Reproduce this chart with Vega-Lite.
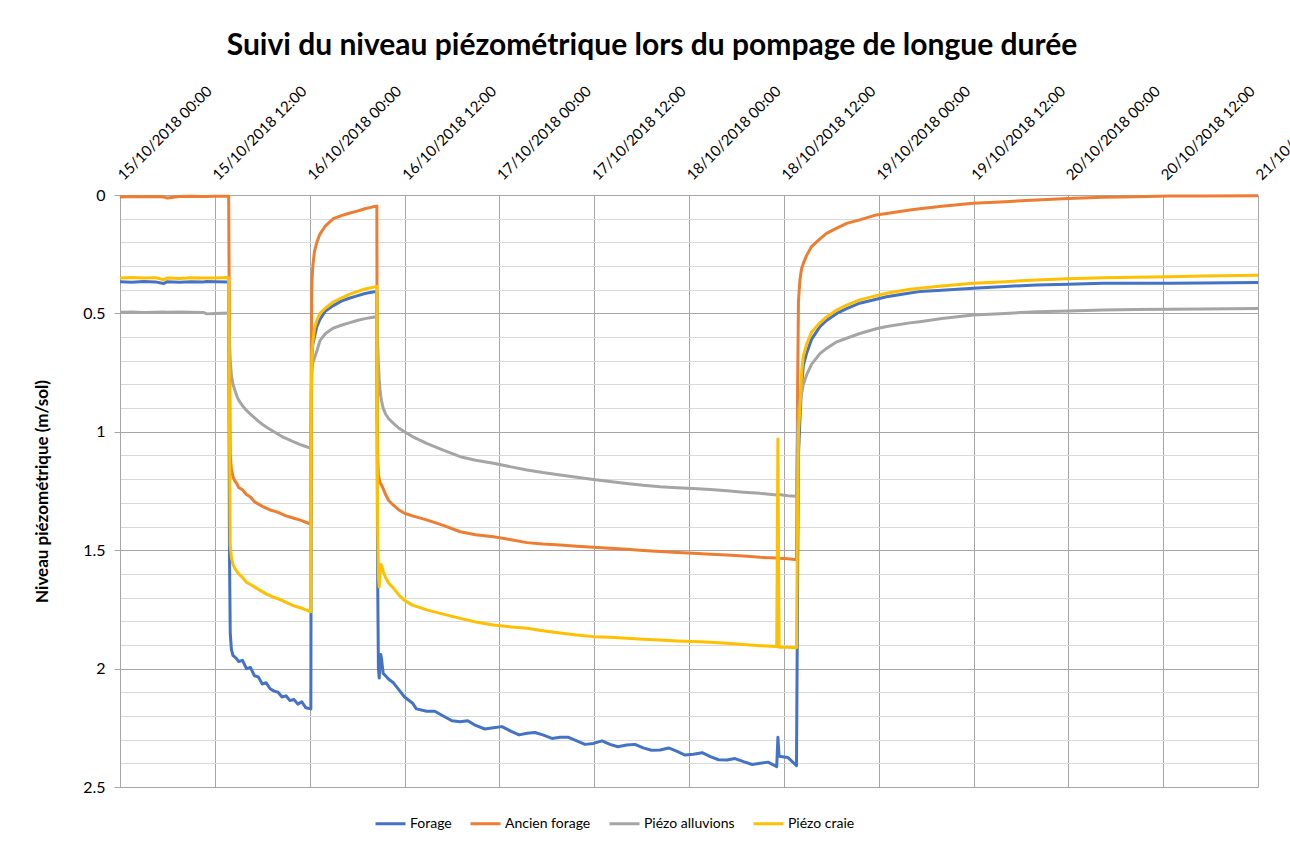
{
  "$schema": "https://vega.github.io/schema/vega-lite/v6.json",
  "autosize": {"type": "none"},
  "width": 1138,
  "height": 592,
  "padding": {"left": 120, "top": 195, "right": 32, "bottom": 56},
  "background": "white",
  "config": {"font": "Lato", "view": {"stroke": null}},
  "title": {
    "text": "Suivi du niveau piézométrique  lors du pompage de longue durée",
    "font": "Lato", "fontSize": 30, "fontWeight": "bold", "color": "#000000",
    "anchor": "middle", "frame": "group", "dx": -37, "offset": 22
  },
  "data": {"values": [
    {"t": "2018-10-15T00:00", "Forage": 0.366, "Ancien forage": 0.008, "Piézo alluvions": 0.495, "Piézo craie": 0.350},
    {"t": "2018-10-15T01:30", "Forage": 0.368, "Ancien forage": 0.006, "Piézo alluvions": 0.494, "Piézo craie": 0.348},
    {"t": "2018-10-15T03:00", "Forage": 0.365, "Ancien forage": 0.007, "Piézo alluvions": 0.496, "Piézo craie": 0.351},
    {"t": "2018-10-15T04:30", "Forage": 0.367, "Ancien forage": 0.006, "Piézo alluvions": 0.495, "Piézo craie": 0.349},
    {"t": "2018-10-15T05:30", "Forage": 0.374, "Ancien forage": 0.008, "Piézo alluvions": 0.494, "Piézo craie": 0.358},
    {"t": "2018-10-15T06:00", "Forage": 0.366, "Ancien forage": 0.013, "Piézo alluvions": 0.495, "Piézo craie": 0.350},
    {"t": "2018-10-15T07:30", "Forage": 0.368, "Ancien forage": 0.006, "Piézo alluvions": 0.494, "Piézo craie": 0.353},
    {"t": "2018-10-15T09:00", "Forage": 0.366, "Ancien forage": 0.005, "Piézo alluvions": 0.495, "Piézo craie": 0.349},
    {"t": "2018-10-15T10:30", "Forage": 0.367, "Ancien forage": 0.006, "Piézo alluvions": 0.496, "Piézo craie": 0.351},
    {"t": "2018-10-15T11:00", "Forage": 0.365, "Ancien forage": 0.006, "Piézo alluvions": 0.502, "Piézo craie": 0.350},
    {"t": "2018-10-15T12:00", "Forage": 0.366, "Ancien forage": 0.005, "Piézo alluvions": 0.500, "Piézo craie": 0.350},
    {"t": "2018-10-15T13:45", "Forage": 0.367, "Ancien forage": 0.005, "Piézo alluvions": 0.498, "Piézo craie": 0.348},
    {"t": "2018-10-15T13:51", "Forage": 1.50, "Ancien forage": 0.60, "Piézo alluvions": 0.62, "Piézo craie": 1.00},
    {"t": "2018-10-15T13:57", "Forage": 1.85, "Ancien forage": 1.10, "Piézo alluvions": 0.70, "Piézo craie": 1.48},
    {"t": "2018-10-15T14:06", "Forage": 1.92, "Ancien forage": 1.16, "Piézo alluvions": 0.76, "Piézo craie": 1.53},
    {"t": "2018-10-15T14:18", "Forage": 1.945, "Ancien forage": 1.19, "Piézo alluvions": 0.80, "Piézo craie": 1.56},
    {"t": "2018-10-15T14:30", "Forage": 1.95, "Ancien forage": 1.205, "Piézo alluvions": 0.82, "Piézo craie": 1.575},
    {"t": "2018-10-15T14:48", "Forage": 1.96, "Ancien forage": 1.22, "Piézo alluvions": 0.85, "Piézo craie": 1.59},
    {"t": "2018-10-15T15:00", "Forage": 1.97, "Ancien forage": 1.235, "Piézo alluvions": 0.865, "Piézo craie": 1.60},
    {"t": "2018-10-15T15:30", "Forage": 1.965, "Ancien forage": 1.245, "Piézo alluvions": 0.89, "Piézo craie": 1.615},
    {"t": "2018-10-15T16:00", "Forage": 2.0, "Ancien forage": 1.265, "Piézo alluvions": 0.91, "Piézo craie": 1.635},
    {"t": "2018-10-15T16:30", "Forage": 1.995, "Ancien forage": 1.275, "Piézo alluvions": 0.925, "Piézo craie": 1.645},
    {"t": "2018-10-15T17:00", "Forage": 2.03, "Ancien forage": 1.295, "Piézo alluvions": 0.94, "Piézo craie": 1.655},
    {"t": "2018-10-15T17:30", "Forage": 2.035, "Ancien forage": 1.305, "Piézo alluvions": 0.955, "Piézo craie": 1.665},
    {"t": "2018-10-15T18:00", "Forage": 2.065, "Ancien forage": 1.315, "Piézo alluvions": 0.968, "Piézo craie": 1.675},
    {"t": "2018-10-15T18:30", "Forage": 2.06, "Ancien forage": 1.322, "Piézo alluvions": 0.98, "Piézo craie": 1.685},
    {"t": "2018-10-15T19:00", "Forage": 2.085, "Ancien forage": 1.33, "Piézo alluvions": 0.99, "Piézo craie": 1.692},
    {"t": "2018-10-15T19:30", "Forage": 2.095, "Ancien forage": 1.335, "Piézo alluvions": 1.0, "Piézo craie": 1.70},
    {"t": "2018-10-15T20:00", "Forage": 2.10, "Ancien forage": 1.34, "Piézo alluvions": 1.01, "Piézo craie": 1.705},
    {"t": "2018-10-15T20:30", "Forage": 2.12, "Ancien forage": 1.348, "Piézo alluvions": 1.02, "Piézo craie": 1.712},
    {"t": "2018-10-15T21:00", "Forage": 2.115, "Ancien forage": 1.355, "Piézo alluvions": 1.028, "Piézo craie": 1.72},
    {"t": "2018-10-15T21:30", "Forage": 2.135, "Ancien forage": 1.36, "Piézo alluvions": 1.035, "Piézo craie": 1.728},
    {"t": "2018-10-15T22:00", "Forage": 2.13, "Ancien forage": 1.365, "Piézo alluvions": 1.043, "Piézo craie": 1.735},
    {"t": "2018-10-15T22:30", "Forage": 2.15, "Ancien forage": 1.37, "Piézo alluvions": 1.05, "Piézo craie": 1.74},
    {"t": "2018-10-15T23:00", "Forage": 2.14, "Ancien forage": 1.375, "Piézo alluvions": 1.056, "Piézo craie": 1.745},
    {"t": "2018-10-15T23:30", "Forage": 2.165, "Ancien forage": 1.382, "Piézo alluvions": 1.062, "Piézo craie": 1.752},
    {"t": "2018-10-16T00:09", "Forage": 2.17, "Ancien forage": 1.39, "Piézo alluvions": 1.07, "Piézo craie": 1.76},
    {"t": "2018-10-16T00:12", "Forage": 1.0, "Ancien forage": 0.70, "Piézo alluvions": 0.85, "Piézo craie": 0.85},
    {"t": "2018-10-16T00:15", "Forage": 0.75, "Ancien forage": 0.45, "Piézo alluvions": 0.76, "Piézo craie": 0.72},
    {"t": "2018-10-16T00:18", "Forage": 0.67, "Ancien forage": 0.36, "Piézo alluvions": 0.73, "Piézo craie": 0.66},
    {"t": "2018-10-16T00:24", "Forage": 0.63, "Ancien forage": 0.30, "Piézo alluvions": 0.71, "Piézo craie": 0.62},
    {"t": "2018-10-16T00:36", "Forage": 0.60, "Ancien forage": 0.24, "Piézo alluvions": 0.69, "Piézo craie": 0.565},
    {"t": "2018-10-16T00:54", "Forage": 0.556, "Ancien forage": 0.20, "Piézo alluvions": 0.66, "Piézo craie": 0.53},
    {"t": "2018-10-16T01:18", "Forage": 0.525, "Ancien forage": 0.165, "Piézo alluvions": 0.615, "Piézo craie": 0.50},
    {"t": "2018-10-16T02:00", "Forage": 0.49, "Ancien forage": 0.13, "Piézo alluvions": 0.585, "Piézo craie": 0.477},
    {"t": "2018-10-16T03:00", "Forage": 0.467, "Ancien forage": 0.10, "Piézo alluvions": 0.562, "Piézo craie": 0.452},
    {"t": "2018-10-16T04:00", "Forage": 0.448, "Ancien forage": 0.087, "Piézo alluvions": 0.55, "Piézo craie": 0.435},
    {"t": "2018-10-16T05:00", "Forage": 0.436, "Ancien forage": 0.077, "Piézo alluvions": 0.54, "Piézo craie": 0.42},
    {"t": "2018-10-16T06:00", "Forage": 0.426, "Ancien forage": 0.068, "Piézo alluvions": 0.53, "Piézo craie": 0.408},
    {"t": "2018-10-16T07:00", "Forage": 0.416, "Ancien forage": 0.058, "Piézo alluvions": 0.522, "Piézo craie": 0.397},
    {"t": "2018-10-16T08:00", "Forage": 0.41, "Ancien forage": 0.05, "Piézo alluvions": 0.516, "Piézo craie": 0.39},
    {"t": "2018-10-16T08:30", "Forage": 0.408, "Ancien forage": 0.047, "Piézo alluvions": 0.514, "Piézo craie": 0.386},
    {"t": "2018-10-16T08:33", "Forage": 1.11, "Ancien forage": 0.9, "Piézo alluvions": 0.56, "Piézo craie": 1.0},
    {"t": "2018-10-16T08:36", "Forage": 1.6, "Ancien forage": 1.1, "Piézo alluvions": 0.62, "Piézo craie": 1.4},
    {"t": "2018-10-16T08:42", "Forage": 2.0, "Ancien forage": 1.18, "Piézo alluvions": 0.72, "Piézo craie": 1.62},
    {"t": "2018-10-16T08:48", "Forage": 2.04, "Ancien forage": 1.20, "Piézo alluvions": 0.78, "Piézo craie": 1.655},
    {"t": "2018-10-16T08:54", "Forage": 1.98, "Ancien forage": 1.215, "Piézo alluvions": 0.82, "Piézo craie": 1.60},
    {"t": "2018-10-16T09:00", "Forage": 1.94, "Ancien forage": 1.22, "Piézo alluvions": 0.85, "Piézo craie": 1.56},
    {"t": "2018-10-16T09:06", "Forage": 1.96, "Ancien forage": 1.225, "Piézo alluvions": 0.87, "Piézo craie": 1.565},
    {"t": "2018-10-16T09:18", "Forage": 2.02, "Ancien forage": 1.24, "Piézo alluvions": 0.90, "Piézo craie": 1.59},
    {"t": "2018-10-16T09:36", "Forage": 2.03, "Ancien forage": 1.265, "Piézo alluvions": 0.925, "Piézo craie": 1.615},
    {"t": "2018-10-16T10:00", "Forage": 2.045, "Ancien forage": 1.29, "Piézo alluvions": 0.945, "Piézo craie": 1.64},
    {"t": "2018-10-16T10:36", "Forage": 2.06, "Ancien forage": 1.31, "Piézo alluvions": 0.964, "Piézo craie": 1.66},
    {"t": "2018-10-16T11:18", "Forage": 2.09, "Ancien forage": 1.33, "Piézo alluvions": 0.985, "Piézo craie": 1.69},
    {"t": "2018-10-16T12:00", "Forage": 2.12, "Ancien forage": 1.344, "Piézo alluvions": 1.0, "Piézo craie": 1.712},
    {"t": "2018-10-16T13:00", "Forage": 2.145, "Ancien forage": 1.355, "Piézo alluvions": 1.02, "Piézo craie": 1.732},
    {"t": "2018-10-16T14:48", "Forage": 2.18, "Ancien forage": 1.372, "Piézo alluvions": 1.049, "Piézo craie": 1.752},
    {"t": "2018-10-16T16:54", "Forage": 2.20, "Ancien forage": 1.395, "Piézo alluvions": 1.077, "Piézo craie": 1.77},
    {"t": "2018-10-16T19:03", "Forage": 2.224, "Ancien forage": 1.422, "Piézo alluvions": 1.105, "Piézo craie": 1.788},
    {"t": "2018-10-16T21:00", "Forage": 2.24, "Ancien forage": 1.435, "Piézo alluvions": 1.12, "Piézo craie": 1.803},
    {"t": "2018-10-16T23:15", "Forage": 2.25, "Ancien forage": 1.443, "Piézo alluvions": 1.133, "Piézo craie": 1.816},
    {"t": "2018-10-17T01:30", "Forage": 2.265, "Ancien forage": 1.456, "Piézo alluvions": 1.148, "Piézo craie": 1.824},
    {"t": "2018-10-17T03:30", "Forage": 2.273, "Ancien forage": 1.468, "Piézo alluvions": 1.161, "Piézo craie": 1.83},
    {"t": "2018-10-17T05:30", "Forage": 2.28, "Ancien forage": 1.474, "Piézo alluvions": 1.172, "Piézo craie": 1.84},
    {"t": "2018-10-17T07:42", "Forage": 2.29, "Ancien forage": 1.478, "Piézo alluvions": 1.182, "Piézo craie": 1.85},
    {"t": "2018-10-17T09:48", "Forage": 2.305, "Ancien forage": 1.483, "Piézo alluvions": 1.192, "Piézo craie": 1.858},
    {"t": "2018-10-17T11:54", "Forage": 2.316, "Ancien forage": 1.488, "Piézo alluvions": 1.201, "Piézo craie": 1.865},
    {"t": "2018-10-17T14:00", "Forage": 2.32, "Ancien forage": 1.492, "Piézo alluvions": 1.21, "Piézo craie": 1.868},
    {"t": "2018-10-17T16:06", "Forage": 2.323, "Ancien forage": 1.496, "Piézo alluvions": 1.218, "Piézo craie": 1.872},
    {"t": "2018-10-17T18:12", "Forage": 2.335, "Ancien forage": 1.501, "Piézo alluvions": 1.226, "Piézo craie": 1.876},
    {"t": "2018-10-17T20:21", "Forage": 2.344, "Ancien forage": 1.506, "Piézo alluvions": 1.232, "Piézo craie": 1.879},
    {"t": "2018-10-17T22:30", "Forage": 2.35, "Ancien forage": 1.51, "Piézo alluvions": 1.236, "Piézo craie": 1.883},
    {"t": "2018-10-18T00:33", "Forage": 2.362, "Ancien forage": 1.513, "Piézo alluvions": 1.239, "Piézo craie": 1.886},
    {"t": "2018-10-18T02:42", "Forage": 2.372, "Ancien forage": 1.517, "Piézo alluvions": 1.244, "Piézo craie": 1.889},
    {"t": "2018-10-18T04:48", "Forage": 2.386, "Ancien forage": 1.52, "Piézo alluvions": 1.249, "Piézo craie": 1.893},
    {"t": "2018-10-18T06:54", "Forage": 2.393, "Ancien forage": 1.525, "Piézo alluvions": 1.255, "Piézo craie": 1.898},
    {"t": "2018-10-18T09:00", "Forage": 2.40, "Ancien forage": 1.53, "Piézo alluvions": 1.26, "Piézo craie": 1.903},
    {"t": "2018-10-18T11:06", "Forage": 2.414, "Ancien forage": 1.533, "Piézo alluvions": 1.267, "Piézo craie": 1.907},
    {"t": "2018-10-18T11:15", "Forage": 2.29, "Ancien forage": 1.533, "Piézo alluvions": 1.262, "Piézo craie": 1.03},
    {"t": "2018-10-18T11:24", "Forage": 2.37, "Ancien forage": 1.534, "Piézo alluvions": 1.265, "Piézo craie": 1.91},
    {"t": "2018-10-18T12:30", "Forage": 2.375, "Ancien forage": 1.536, "Piézo alluvions": 1.27, "Piézo craie": 1.91},
    {"t": "2018-10-18T13:36", "Forage": 2.41, "Ancien forage": 1.54, "Piézo alluvions": 1.272, "Piézo craie": 1.912},
    {"t": "2018-10-18T13:45", "Forage": 1.6, "Ancien forage": 0.8, "Piézo alluvions": 1.0, "Piézo craie": 1.3},
    {"t": "2018-10-18T13:51", "Forage": 1.1, "Ancien forage": 0.45, "Piézo alluvions": 0.9, "Piézo craie": 1.0},
    {"t": "2018-10-18T14:02", "Forage": 0.95, "Ancien forage": 0.359, "Piézo alluvions": 0.87, "Piézo craie": 0.9},
    {"t": "2018-10-18T14:15", "Forage": 0.8, "Ancien forage": 0.31, "Piézo alluvions": 0.837, "Piézo craie": 0.75},
    {"t": "2018-10-18T14:28", "Forage": 0.72, "Ancien forage": 0.289, "Piézo alluvions": 0.80, "Piézo craie": 0.68},
    {"t": "2018-10-18T14:53", "Forage": 0.668, "Ancien forage": 0.255, "Piézo alluvions": 0.76, "Piézo craie": 0.63},
    {"t": "2018-10-18T15:30", "Forage": 0.61, "Ancien forage": 0.218, "Piézo alluvions": 0.715, "Piézo craie": 0.58},
    {"t": "2018-10-18T16:34", "Forage": 0.556, "Ancien forage": 0.185, "Piézo alluvions": 0.67, "Piézo craie": 0.54},
    {"t": "2018-10-18T17:24", "Forage": 0.53, "Ancien forage": 0.162, "Piézo alluvions": 0.648, "Piézo craie": 0.515},
    {"t": "2018-10-18T18:42", "Forage": 0.50, "Ancien forage": 0.14, "Piézo alluvions": 0.62, "Piézo craie": 0.486},
    {"t": "2018-10-18T19:57", "Forage": 0.48, "Ancien forage": 0.12, "Piézo alluvions": 0.605, "Piézo craie": 0.465},
    {"t": "2018-10-18T21:36", "Forage": 0.457, "Ancien forage": 0.105, "Piézo alluvions": 0.585, "Piézo craie": 0.443},
    {"t": "2018-10-18T23:42", "Forage": 0.44, "Ancien forage": 0.084, "Piézo alluvions": 0.565, "Piézo craie": 0.425},
    {"t": "2018-10-19T01:00", "Forage": 0.43, "Ancien forage": 0.078, "Piézo alluvions": 0.555, "Piézo craie": 0.415},
    {"t": "2018-10-19T03:57", "Forage": 0.414, "Ancien forage": 0.063, "Piézo alluvions": 0.54, "Piézo craie": 0.398},
    {"t": "2018-10-19T05:12", "Forage": 0.408, "Ancien forage": 0.058, "Piézo alluvions": 0.535, "Piézo craie": 0.394},
    {"t": "2018-10-19T08:00", "Forage": 0.402, "Ancien forage": 0.048, "Piézo alluvions": 0.522, "Piézo craie": 0.384},
    {"t": "2018-10-19T11:57", "Forage": 0.394, "Ancien forage": 0.035, "Piézo alluvions": 0.507, "Piézo craie": 0.373},
    {"t": "2018-10-19T16:00", "Forage": 0.386, "Ancien forage": 0.028, "Piézo alluvions": 0.50, "Piézo craie": 0.366},
    {"t": "2018-10-19T20:00", "Forage": 0.38, "Ancien forage": 0.021, "Piézo alluvions": 0.493, "Piézo craie": 0.359},
    {"t": "2018-10-20T00:00", "Forage": 0.377, "Ancien forage": 0.015, "Piézo alluvions": 0.49, "Piézo craie": 0.354},
    {"t": "2018-10-20T04:24", "Forage": 0.373, "Ancien forage": 0.01, "Piézo alluvions": 0.486, "Piézo craie": 0.349},
    {"t": "2018-10-20T08:30", "Forage": 0.373, "Ancien forage": 0.007, "Piézo alluvions": 0.484, "Piézo craie": 0.347},
    {"t": "2018-10-20T12:48", "Forage": 0.373, "Ancien forage": 0.004, "Piézo alluvions": 0.483, "Piézo craie": 0.345},
    {"t": "2018-10-20T17:00", "Forage": 0.372, "Ancien forage": 0.004, "Piézo alluvions": 0.481, "Piézo craie": 0.342},
    {"t": "2018-10-21T00:00", "Forage": 0.37, "Ancien forage": 0.003, "Piézo alluvions": 0.479, "Piézo craie": 0.339},
    {"t": "2018-10-16T13:30", "Forage": 2.17},
    {"t": "2018-10-16T15:50", "Forage": 2.18},
    {"t": "2018-10-16T18:00", "Forage": 2.22},
    {"t": "2018-10-16T20:00", "Forage": 2.22},
    {"t": "2018-10-16T22:10", "Forage": 2.255},
    {"t": "2018-10-17T00:20", "Forage": 2.245},
    {"t": "2018-10-17T02:30", "Forage": 2.28},
    {"t": "2018-10-17T04:30", "Forage": 2.27},
    {"t": "2018-10-17T06:40", "Forage": 2.295},
    {"t": "2018-10-17T08:45", "Forage": 2.29},
    {"t": "2018-10-17T10:50", "Forage": 2.32},
    {"t": "2018-10-17T13:00", "Forage": 2.305},
    {"t": "2018-10-17T15:00", "Forage": 2.33},
    {"t": "2018-10-17T17:10", "Forage": 2.32},
    {"t": "2018-10-17T19:15", "Forage": 2.345},
    {"t": "2018-10-17T21:25", "Forage": 2.335},
    {"t": "2018-10-17T23:30", "Forage": 2.365},
    {"t": "2018-10-18T01:40", "Forage": 2.355},
    {"t": "2018-10-18T03:45", "Forage": 2.385},
    {"t": "2018-10-18T05:50", "Forage": 2.38},
    {"t": "2018-10-18T08:00", "Forage": 2.405},
    {"t": "2018-10-18T10:00", "Forage": 2.395}
  ]},
  "transform": [
    {"fold": ["Forage", "Ancien forage", "Piézo alluvions", "Piézo craie"], "as": ["serie", "niveau"]}
  ],
  "mark": {"type": "line", "strokeWidth": 3, "invalid": "filter", "strokeJoin": "round"},
  "encoding": {
    "x": {
      "field": "t", "type": "temporal",
      "scale": {"domain": [{"year": 2018, "month": 10, "date": 15, "hours": 0}, {"year": 2018, "month": 10, "date": 21, "hours": 0}]},
      "axis": {
        "orient": "top", "title": null,
        "values": [
          {"year": 2018, "month": 10, "date": 15, "hours": 0}, {"year": 2018, "month": 10, "date": 15, "hours": 12},
          {"year": 2018, "month": 10, "date": 16, "hours": 0}, {"year": 2018, "month": 10, "date": 16, "hours": 12},
          {"year": 2018, "month": 10, "date": 17, "hours": 0}, {"year": 2018, "month": 10, "date": 17, "hours": 12},
          {"year": 2018, "month": 10, "date": 18, "hours": 0}, {"year": 2018, "month": 10, "date": 18, "hours": 12},
          {"year": 2018, "month": 10, "date": 19, "hours": 0}, {"year": 2018, "month": 10, "date": 19, "hours": 12},
          {"year": 2018, "month": 10, "date": 20, "hours": 0}, {"year": 2018, "month": 10, "date": 20, "hours": 12},
          {"year": 2018, "month": 10, "date": 21, "hours": 0}
        ],
        "format": "%d/%m/%Y %H:%M",
        "labelAngle": -45, "labelAlign": "left", "labelBaseline": "middle",
        "labelPadding": 18, "labelFont": "Lato", "labelFontSize": 15, "labelColor": "#000000",
        "labelOverlap": false, "labelFlush": false, "labelBound": false,
        "domain": false, "ticks": false,
        "grid": true, "gridColor": "#a6a6a6", "gridWidth": 1
      }
    },
    "y": {
      "field": "niveau", "type": "quantitative",
      "scale": {"domain": [0, 2.5], "reverse": true, "nice": false},
      "axis": {
        "title": "Niveau piézométrique (m/sol)",
        "titleFont": "Lato", "titleFontSize": 17, "titleFontWeight": "bold", "titleColor": "#000000",
        "titleX": -69,
        "values": [0, 0.1, 0.2, 0.3, 0.4, 0.5, 0.6, 0.7, 0.8, 0.9, 1, 1.1, 1.2, 1.3, 1.4, 1.5, 1.6, 1.7, 1.8, 1.9, 2, 2.1, 2.2, 2.3, 2.4, 2.5],
        "format": ".1~f",
        "labelExpr": "round(datum.value * 10) % 5 == 0 ? datum.label : ''",
        "labelFont": "Lato", "labelFontSize": 16, "labelColor": "#000000", "labelPadding": 9,
        "labelOverlap": false,
        "grid": true,
        "gridColor": {"condition": {"test": "round(datum.value * 10) % 5 == 0", "value": "#a6a6a6"}, "value": "#d9d9d9"},
        "tickColor": {"condition": {"test": "round(datum.value * 10) % 5 == 0", "value": "#a6a6a6"}, "value": "transparent"},
        "tickSize": 6,
        "domain": true, "domainColor": "#a6a6a6"
      }
    },
    "color": {
      "field": "serie", "type": "nominal",
      "scale": {"domain": ["Forage", "Ancien forage", "Piézo alluvions", "Piézo craie"], "range": ["#4472C4", "#ED7D31", "#A5A5A5", "#FFC000"]},
      "legend": {
        "title": null, "orient": "none", "direction": "horizontal",
        "legendX": 254, "legendY": 612,
        "symbolType": "stroke", "symbolSize": 900, "symbolStrokeWidth": 3,
        "labelFont": "Lato", "labelFontSize": 14, "labelColor": "#000000",
        "labelOffset": 3, "columnPadding": 12
      }
    }
  }
}
